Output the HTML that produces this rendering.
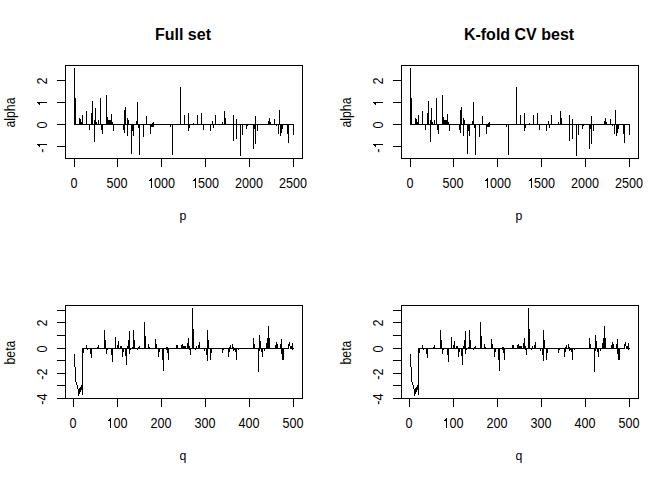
<!DOCTYPE html>
<html><head><meta charset="utf-8"><style>
html,body{margin:0;padding:0;background:#fff;}
svg{display:block;}
text{font-family:"Liberation Sans",sans-serif;fill:#000;}
.t{font-size:16px;font-weight:bold;text-anchor:middle;}
.a{font-size:13px;text-anchor:middle;}
.d{font-size:12.6px;}
.l{font-size:12.3px;text-anchor:middle;}
</style></head><body>
<svg width="672" height="480" viewBox="0 0 672 480" shape-rendering="crispEdges">
<rect width="672" height="480" fill="#fff"/>
<g transform="translate(0,0)">
<rect x="65.5" y="65.5" width="237" height="93" fill="none" stroke="#000" stroke-width="1"/>
<line x1="74.5" y1="158" x2="74.5" y2="166.5" stroke="#000"/>
<line x1="117.5" y1="158" x2="117.5" y2="166.5" stroke="#000"/>
<line x1="161.5" y1="158" x2="161.5" y2="166.5" stroke="#000"/>
<line x1="205.5" y1="158" x2="205.5" y2="166.5" stroke="#000"/>
<line x1="249.5" y1="158" x2="249.5" y2="166.5" stroke="#000"/>
<line x1="293.5" y1="158" x2="293.5" y2="166.5" stroke="#000"/>
<line x1="57" y1="80.5" x2="65.5" y2="80.5" stroke="#000"/>
<line x1="57" y1="102.5" x2="65.5" y2="102.5" stroke="#000"/>
<line x1="57" y1="124.5" x2="65.5" y2="124.5" stroke="#000"/>
<line x1="57" y1="146.5" x2="65.5" y2="146.5" stroke="#000"/>
<line x1="74" y1="124.5" x2="294" y2="124.5" stroke="#000"/>
<path d="M74.5 124.5V68M75.5 124.5V98M79.5 124.5V118M80.5 124.5V119M81.5 124.5V122M82.5 124.5V115M86.5 124.5V111M91.5 124.5V113M92.5 124.5V101M94.5 124.5V120M95.5 124.5V108M96.5 124.5V122M98.5 124.5V120M100.5 124.5V98M106.5 124.5V95M107.5 124.5V117M108.5 124.5V120M109.5 124.5V120M110.5 124.5V120M111.5 124.5V114M112.5 124.5V122M124.5 124.5V110M125.5 124.5V107M127.5 124.5V118M128.5 124.5V120M136.5 124.5V121M137.5 124.5V102M146.5 124.5V116M152.5 124.5V123M153.5 124.5V122M180.5 124.5V87M184.5 124.5V115M188.5 124.5V113M193.5 124.5V123M197.5 124.5V115M201.5 124.5V113M212.5 124.5V121M215.5 124.5V115M222.5 124.5V122M224.5 124.5V111M225.5 124.5V118M233.5 124.5V115M236.5 124.5V119M255.5 124.5V116M268.5 124.5V121M269.5 124.5V118M270.5 124.5V122M274.5 124.5V119M279.5 124.5V110M89.5 124.5V130M94.5 124.5V142M101.5 124.5V130M102.5 124.5V134M113.5 124.5V131M123.5 124.5V130M124.5 124.5V133M127.5 124.5V136M131.5 124.5V154M132.5 124.5V131M133.5 124.5V136M139.5 124.5V155M138.5 124.5V128M143.5 124.5V137M150.5 124.5V134M151.5 124.5V127M152.5 124.5V127M153.5 124.5V127M170.5 124.5V127M172.5 124.5V155M188.5 124.5V131M189.5 124.5V128M203.5 124.5V130M210.5 124.5V131M213.5 124.5V128M233.5 124.5V141M236.5 124.5V139M240.5 124.5V156M242.5 124.5V135M246.5 124.5V129M247.5 124.5V126M253.5 124.5V149M254.5 124.5V129M255.5 124.5V144M257.5 124.5V131M276.5 124.5V126M278.5 124.5V134M280.5 124.5V136M281.5 124.5V133M282.5 124.5V129M287.5 124.5V134M288.5 124.5V143M293.5 124.5V135" stroke="#000" fill="none"/>

<text x="183" y="40" class="t">Full set</text>
<g transform="translate(74,188) scale(1,1.11)"><text x="-3.50" y="0" class="d">0</text></g>
<g transform="translate(117,188) scale(1,1.11)"><text x="-10.51" y="0" class="d">5</text><text x="-3.50" y="0" class="d">0</text><text x="3.50" y="0" class="d">0</text></g>
<g transform="translate(161,188) scale(1,1.11)"><path d="M-9.002 0.000 L-9.998 0.000 L-9.998 -7.057 L-10.454 -6.675 L-11.106 -6.294 L-11.770 -5.986 L-12.269 -5.802 L-12.269 -6.872 L-11.376 -7.291 L-10.706 -7.912 L-10.048 -8.558 L-9.765 -9.019 L-9.002 -9.019Z" fill="#000" stroke="none"/><text x="-7.01" y="0" class="d">0</text><text x="0.00" y="0" class="d">0</text><text x="7.01" y="0" class="d">0</text></g>
<g transform="translate(205,188) scale(1,1.11)"><path d="M-9.002 0.000 L-9.998 0.000 L-9.998 -7.057 L-10.454 -6.675 L-11.106 -6.294 L-11.770 -5.986 L-12.269 -5.802 L-12.269 -6.872 L-11.376 -7.291 L-10.706 -7.912 L-10.048 -8.558 L-9.765 -9.019 L-9.002 -9.019Z" fill="#000" stroke="none"/><text x="-7.01" y="0" class="d">5</text><text x="0.00" y="0" class="d">0</text><text x="7.01" y="0" class="d">0</text></g>
<g transform="translate(249,188) scale(1,1.11)"><text x="-14.01" y="0" class="d">2</text><text x="-7.01" y="0" class="d">0</text><text x="0.00" y="0" class="d">0</text><text x="7.01" y="0" class="d">0</text></g>
<g transform="translate(293,188) scale(1,1.11)"><text x="-14.01" y="0" class="d">2</text><text x="-7.01" y="0" class="d">5</text><text x="0.00" y="0" class="d">0</text><text x="7.01" y="0" class="d">0</text></g>
<g transform="translate(47,81.1) rotate(-90) scale(1,1.11)"><text x="-3.50" y="0" class="d">2</text></g>
<g transform="translate(47,103.1) rotate(-90) scale(1,1.11)"><path d="M1.098 0.000 L0.102 0.000 L0.102 -7.057 L-0.354 -6.675 L-1.006 -6.294 L-1.670 -5.986 L-2.169 -5.802 L-2.169 -6.872 L-1.276 -7.291 L-0.606 -7.912 L0.052 -8.558 L0.335 -9.019 L1.098 -9.019Z" fill="#000" stroke="none"/></g>
<g transform="translate(47,125.1) rotate(-90) scale(1,1.11)"><text x="-3.50" y="0" class="d">0</text></g>
<g transform="translate(47,147.1) rotate(-90) scale(1,1.11)"><text x="-5.60" y="0" class="d">-</text><path d="M3.098 0.000 L2.102 0.000 L2.102 -7.057 L1.646 -6.675 L0.994 -6.294 L0.330 -5.986 L-0.169 -5.802 L-0.169 -6.872 L0.724 -7.291 L1.394 -7.912 L2.052 -8.558 L2.335 -9.019 L3.098 -9.019Z" fill="#000" stroke="none"/></g>
<text transform="translate(183,219.7) scale(1,1.08)" class="l">p</text>
<text transform="translate(15,112.5) rotate(-90) scale(1,1.12)" class="l">alpha</text>
</g>
<g transform="translate(0,240)">
<rect x="65.5" y="65.5" width="237" height="93" fill="none" stroke="#000" stroke-width="1"/>
<line x1="73.5" y1="158" x2="73.5" y2="166.5" stroke="#000"/>
<line x1="117.5" y1="158" x2="117.5" y2="166.5" stroke="#000"/>
<line x1="161.5" y1="158" x2="161.5" y2="166.5" stroke="#000"/>
<line x1="205.5" y1="158" x2="205.5" y2="166.5" stroke="#000"/>
<line x1="249.5" y1="158" x2="249.5" y2="166.5" stroke="#000"/>
<line x1="293.5" y1="158" x2="293.5" y2="166.5" stroke="#000"/>
<line x1="57" y1="70.5" x2="65.5" y2="70.5" stroke="#000"/>
<line x1="57" y1="82.5" x2="65.5" y2="82.5" stroke="#000"/>
<line x1="57" y1="95.5" x2="65.5" y2="95.5" stroke="#000"/>
<line x1="57" y1="108.5" x2="65.5" y2="108.5" stroke="#000"/>
<line x1="57" y1="120.5" x2="65.5" y2="120.5" stroke="#000"/>
<line x1="57" y1="133.5" x2="65.5" y2="133.5" stroke="#000"/>
<line x1="57" y1="145.5" x2="65.5" y2="145.5" stroke="#000"/>
<line x1="57" y1="158.5" x2="65.5" y2="158.5" stroke="#000"/>
<line x1="82" y1="108.5" x2="289" y2="108.5" stroke="#000"/>
<path d="M86.5 108.5V105M98.5 108.5V105M97.5 108.5V107M104.5 108.5V90M105.5 108.5V100M115.5 108.5V97M117.5 108.5V105M118.5 108.5V101M120.5 108.5V106M121.5 108.5V106M127.5 108.5V106M128.5 108.5V100M129.5 108.5V91M132.5 108.5V107M133.5 108.5V90M134.5 108.5V100M138.5 108.5V107M139.5 108.5V106M144.5 108.5V82M145.5 108.5V96M148.5 108.5V104M149.5 108.5V107M155.5 108.5V99M156.5 108.5V104M166.5 108.5V107M167.5 108.5V107M176.5 108.5V105M177.5 108.5V105M181.5 108.5V105M182.5 108.5V104M183.5 108.5V106M184.5 108.5V106M185.5 108.5V106M187.5 108.5V103M188.5 108.5V98M189.5 108.5V106M192.5 108.5V68M193.5 108.5V89M196.5 108.5V106M198.5 108.5V105M199.5 108.5V102M207.5 108.5V90M208.5 108.5V100M229.5 108.5V107M230.5 108.5V105M232.5 108.5V104M233.5 108.5V107M253.5 108.5V98M254.5 108.5V104M259.5 108.5V95M260.5 108.5V101M266.5 108.5V103M267.5 108.5V98M268.5 108.5V86M269.5 108.5V98M275.5 108.5V105M276.5 108.5V102M277.5 108.5V104M280.5 108.5V104M281.5 108.5V99M288.5 108.5V104M83.5 108.5V113M87.5 108.5V110M90.5 108.5V114M91.5 108.5V118M106.5 108.5V114M107.5 108.5V110M111.5 108.5V115M112.5 108.5V122M122.5 108.5V117M123.5 108.5V112M125.5 108.5V116M126.5 108.5V125M129.5 108.5V114M130.5 108.5V110M137.5 108.5V110M158.5 108.5V117M159.5 108.5V112M162.5 108.5V120M163.5 108.5V131M166.5 108.5V110M167.5 108.5V113M168.5 108.5V120M189.5 108.5V110M190.5 108.5V115M195.5 108.5V110M204.5 108.5V111M205.5 108.5V109M206.5 108.5V115M207.5 108.5V121M210.5 108.5V120M211.5 108.5V113M222.5 108.5V113M223.5 108.5V110M228.5 108.5V117M229.5 108.5V112M233.5 108.5V111M234.5 108.5V110M235.5 108.5V112M236.5 108.5V120M238.5 108.5V110M242.5 108.5V109M258.5 108.5V132M259.5 108.5V111M261.5 108.5V112M262.5 108.5V117M264.5 108.5V111M265.5 108.5V109M281.5 108.5V114M282.5 108.5V120M283.5 108.5V120" stroke="#000" fill="none"/>
<path d="M74.5 114V127M75.5 127V142M76.5 142V145M77.5 145V149M78.5 149V156M79.5 148V154M80.5 147V152M81.5 145V150M82.5 108V155M289.5 102V106M290.5 106V109M291.5 106V109M292.5 103V110M293.5 108V109" stroke="#000" fill="none"/>
<text x="183" y="40" class="t"></text>
<g transform="translate(73,188) scale(1,1.11)"><text x="-3.50" y="0" class="d">0</text></g>
<g transform="translate(117,188) scale(1,1.11)"><path d="M-6.002 0.000 L-6.998 0.000 L-6.998 -7.057 L-7.454 -6.675 L-8.106 -6.294 L-8.770 -5.986 L-9.269 -5.802 L-9.269 -6.872 L-8.376 -7.291 L-7.706 -7.912 L-7.048 -8.558 L-6.765 -9.019 L-6.002 -9.019Z" fill="#000" stroke="none"/><text x="-3.50" y="0" class="d">0</text><text x="3.50" y="0" class="d">0</text></g>
<g transform="translate(161,188) scale(1,1.11)"><text x="-10.51" y="0" class="d">2</text><text x="-3.50" y="0" class="d">0</text><text x="3.50" y="0" class="d">0</text></g>
<g transform="translate(205,188) scale(1,1.11)"><text x="-10.51" y="0" class="d">3</text><text x="-3.50" y="0" class="d">0</text><text x="3.50" y="0" class="d">0</text></g>
<g transform="translate(249,188) scale(1,1.11)"><text x="-10.51" y="0" class="d">4</text><text x="-3.50" y="0" class="d">0</text><text x="3.50" y="0" class="d">0</text></g>
<g transform="translate(293,188) scale(1,1.11)"><text x="-10.51" y="0" class="d">5</text><text x="-3.50" y="0" class="d">0</text><text x="3.50" y="0" class="d">0</text></g>
<g transform="translate(47,83.1) rotate(-90) scale(1,1.11)"><text x="-3.50" y="0" class="d">2</text></g>
<g transform="translate(47,109.1) rotate(-90) scale(1,1.11)"><text x="-3.50" y="0" class="d">0</text></g>
<g transform="translate(47,134.1) rotate(-90) scale(1,1.11)"><text x="-5.60" y="0" class="d">-</text><text x="-1.40" y="0" class="d">2</text></g>
<g transform="translate(47,159.1) rotate(-90) scale(1,1.11)"><text x="-5.60" y="0" class="d">-</text><text x="-1.40" y="0" class="d">4</text></g>
<text transform="translate(183,219.7) scale(1,1.08)" class="l">q</text>
<text transform="translate(15,112.5) rotate(-90) scale(1,1.12)" class="l">beta</text>
</g>
<g transform="translate(336,0)">
<rect x="65.5" y="65.5" width="237" height="93" fill="none" stroke="#000" stroke-width="1"/>
<line x1="74.5" y1="158" x2="74.5" y2="166.5" stroke="#000"/>
<line x1="117.5" y1="158" x2="117.5" y2="166.5" stroke="#000"/>
<line x1="161.5" y1="158" x2="161.5" y2="166.5" stroke="#000"/>
<line x1="205.5" y1="158" x2="205.5" y2="166.5" stroke="#000"/>
<line x1="249.5" y1="158" x2="249.5" y2="166.5" stroke="#000"/>
<line x1="293.5" y1="158" x2="293.5" y2="166.5" stroke="#000"/>
<line x1="57" y1="80.5" x2="65.5" y2="80.5" stroke="#000"/>
<line x1="57" y1="102.5" x2="65.5" y2="102.5" stroke="#000"/>
<line x1="57" y1="124.5" x2="65.5" y2="124.5" stroke="#000"/>
<line x1="57" y1="146.5" x2="65.5" y2="146.5" stroke="#000"/>
<line x1="74" y1="124.5" x2="294" y2="124.5" stroke="#000"/>
<path d="M74.5 124.5V68M75.5 124.5V98M79.5 124.5V118M80.5 124.5V119M81.5 124.5V122M82.5 124.5V115M86.5 124.5V111M91.5 124.5V113M92.5 124.5V101M94.5 124.5V120M95.5 124.5V108M96.5 124.5V122M98.5 124.5V120M100.5 124.5V98M106.5 124.5V95M107.5 124.5V117M108.5 124.5V120M109.5 124.5V120M110.5 124.5V120M111.5 124.5V114M112.5 124.5V122M124.5 124.5V110M125.5 124.5V107M127.5 124.5V118M128.5 124.5V120M136.5 124.5V121M137.5 124.5V102M146.5 124.5V116M152.5 124.5V123M153.5 124.5V122M180.5 124.5V87M184.5 124.5V115M188.5 124.5V113M193.5 124.5V123M197.5 124.5V115M201.5 124.5V113M212.5 124.5V121M215.5 124.5V115M222.5 124.5V122M224.5 124.5V111M225.5 124.5V118M233.5 124.5V115M236.5 124.5V119M255.5 124.5V116M268.5 124.5V121M269.5 124.5V118M270.5 124.5V122M274.5 124.5V119M279.5 124.5V110M89.5 124.5V130M94.5 124.5V142M101.5 124.5V130M102.5 124.5V134M113.5 124.5V131M123.5 124.5V130M124.5 124.5V133M127.5 124.5V136M131.5 124.5V154M132.5 124.5V131M133.5 124.5V136M139.5 124.5V155M138.5 124.5V128M143.5 124.5V137M150.5 124.5V134M151.5 124.5V127M152.5 124.5V127M153.5 124.5V127M170.5 124.5V127M172.5 124.5V155M188.5 124.5V131M189.5 124.5V128M203.5 124.5V130M210.5 124.5V131M213.5 124.5V128M233.5 124.5V141M236.5 124.5V139M240.5 124.5V156M242.5 124.5V135M246.5 124.5V129M247.5 124.5V126M253.5 124.5V149M254.5 124.5V129M255.5 124.5V144M257.5 124.5V131M276.5 124.5V126M278.5 124.5V134M280.5 124.5V136M281.5 124.5V133M282.5 124.5V129M287.5 124.5V134M288.5 124.5V143M293.5 124.5V135" stroke="#000" fill="none"/>

<text x="183" y="40" class="t">K-fold CV best</text>
<g transform="translate(74,188) scale(1,1.11)"><text x="-3.50" y="0" class="d">0</text></g>
<g transform="translate(117,188) scale(1,1.11)"><text x="-10.51" y="0" class="d">5</text><text x="-3.50" y="0" class="d">0</text><text x="3.50" y="0" class="d">0</text></g>
<g transform="translate(161,188) scale(1,1.11)"><path d="M-9.002 0.000 L-9.998 0.000 L-9.998 -7.057 L-10.454 -6.675 L-11.106 -6.294 L-11.770 -5.986 L-12.269 -5.802 L-12.269 -6.872 L-11.376 -7.291 L-10.706 -7.912 L-10.048 -8.558 L-9.765 -9.019 L-9.002 -9.019Z" fill="#000" stroke="none"/><text x="-7.01" y="0" class="d">0</text><text x="0.00" y="0" class="d">0</text><text x="7.01" y="0" class="d">0</text></g>
<g transform="translate(205,188) scale(1,1.11)"><path d="M-9.002 0.000 L-9.998 0.000 L-9.998 -7.057 L-10.454 -6.675 L-11.106 -6.294 L-11.770 -5.986 L-12.269 -5.802 L-12.269 -6.872 L-11.376 -7.291 L-10.706 -7.912 L-10.048 -8.558 L-9.765 -9.019 L-9.002 -9.019Z" fill="#000" stroke="none"/><text x="-7.01" y="0" class="d">5</text><text x="0.00" y="0" class="d">0</text><text x="7.01" y="0" class="d">0</text></g>
<g transform="translate(249,188) scale(1,1.11)"><text x="-14.01" y="0" class="d">2</text><text x="-7.01" y="0" class="d">0</text><text x="0.00" y="0" class="d">0</text><text x="7.01" y="0" class="d">0</text></g>
<g transform="translate(293,188) scale(1,1.11)"><text x="-14.01" y="0" class="d">2</text><text x="-7.01" y="0" class="d">5</text><text x="0.00" y="0" class="d">0</text><text x="7.01" y="0" class="d">0</text></g>
<g transform="translate(47,81.1) rotate(-90) scale(1,1.11)"><text x="-3.50" y="0" class="d">2</text></g>
<g transform="translate(47,103.1) rotate(-90) scale(1,1.11)"><path d="M1.098 0.000 L0.102 0.000 L0.102 -7.057 L-0.354 -6.675 L-1.006 -6.294 L-1.670 -5.986 L-2.169 -5.802 L-2.169 -6.872 L-1.276 -7.291 L-0.606 -7.912 L0.052 -8.558 L0.335 -9.019 L1.098 -9.019Z" fill="#000" stroke="none"/></g>
<g transform="translate(47,125.1) rotate(-90) scale(1,1.11)"><text x="-3.50" y="0" class="d">0</text></g>
<g transform="translate(47,147.1) rotate(-90) scale(1,1.11)"><text x="-5.60" y="0" class="d">-</text><path d="M3.098 0.000 L2.102 0.000 L2.102 -7.057 L1.646 -6.675 L0.994 -6.294 L0.330 -5.986 L-0.169 -5.802 L-0.169 -6.872 L0.724 -7.291 L1.394 -7.912 L2.052 -8.558 L2.335 -9.019 L3.098 -9.019Z" fill="#000" stroke="none"/></g>
<text transform="translate(183,219.7) scale(1,1.08)" class="l">p</text>
<text transform="translate(15,112.5) rotate(-90) scale(1,1.12)" class="l">alpha</text>
</g>
<g transform="translate(336,240)">
<rect x="65.5" y="65.5" width="237" height="93" fill="none" stroke="#000" stroke-width="1"/>
<line x1="73.5" y1="158" x2="73.5" y2="166.5" stroke="#000"/>
<line x1="117.5" y1="158" x2="117.5" y2="166.5" stroke="#000"/>
<line x1="161.5" y1="158" x2="161.5" y2="166.5" stroke="#000"/>
<line x1="205.5" y1="158" x2="205.5" y2="166.5" stroke="#000"/>
<line x1="249.5" y1="158" x2="249.5" y2="166.5" stroke="#000"/>
<line x1="293.5" y1="158" x2="293.5" y2="166.5" stroke="#000"/>
<line x1="57" y1="70.5" x2="65.5" y2="70.5" stroke="#000"/>
<line x1="57" y1="82.5" x2="65.5" y2="82.5" stroke="#000"/>
<line x1="57" y1="95.5" x2="65.5" y2="95.5" stroke="#000"/>
<line x1="57" y1="108.5" x2="65.5" y2="108.5" stroke="#000"/>
<line x1="57" y1="120.5" x2="65.5" y2="120.5" stroke="#000"/>
<line x1="57" y1="133.5" x2="65.5" y2="133.5" stroke="#000"/>
<line x1="57" y1="145.5" x2="65.5" y2="145.5" stroke="#000"/>
<line x1="57" y1="158.5" x2="65.5" y2="158.5" stroke="#000"/>
<line x1="82" y1="108.5" x2="289" y2="108.5" stroke="#000"/>
<path d="M86.5 108.5V105M98.5 108.5V105M97.5 108.5V107M104.5 108.5V90M105.5 108.5V100M115.5 108.5V97M117.5 108.5V105M118.5 108.5V101M120.5 108.5V106M121.5 108.5V106M127.5 108.5V106M128.5 108.5V100M129.5 108.5V91M132.5 108.5V107M133.5 108.5V90M134.5 108.5V100M138.5 108.5V107M139.5 108.5V106M144.5 108.5V82M145.5 108.5V96M148.5 108.5V104M149.5 108.5V107M155.5 108.5V99M156.5 108.5V104M166.5 108.5V107M167.5 108.5V107M176.5 108.5V105M177.5 108.5V105M181.5 108.5V105M182.5 108.5V104M183.5 108.5V106M184.5 108.5V106M185.5 108.5V106M187.5 108.5V103M188.5 108.5V98M189.5 108.5V106M192.5 108.5V68M193.5 108.5V89M196.5 108.5V106M198.5 108.5V105M199.5 108.5V102M207.5 108.5V90M208.5 108.5V100M229.5 108.5V107M230.5 108.5V105M232.5 108.5V104M233.5 108.5V107M253.5 108.5V98M254.5 108.5V104M259.5 108.5V95M260.5 108.5V101M266.5 108.5V103M267.5 108.5V98M268.5 108.5V86M269.5 108.5V98M275.5 108.5V105M276.5 108.5V102M277.5 108.5V104M280.5 108.5V104M281.5 108.5V99M288.5 108.5V104M83.5 108.5V113M87.5 108.5V110M90.5 108.5V114M91.5 108.5V118M106.5 108.5V114M107.5 108.5V110M111.5 108.5V115M112.5 108.5V122M122.5 108.5V117M123.5 108.5V112M125.5 108.5V116M126.5 108.5V125M129.5 108.5V114M130.5 108.5V110M137.5 108.5V110M158.5 108.5V117M159.5 108.5V112M162.5 108.5V120M163.5 108.5V131M166.5 108.5V110M167.5 108.5V113M168.5 108.5V120M189.5 108.5V110M190.5 108.5V115M195.5 108.5V110M204.5 108.5V111M205.5 108.5V109M206.5 108.5V115M207.5 108.5V121M210.5 108.5V120M211.5 108.5V113M222.5 108.5V113M223.5 108.5V110M228.5 108.5V117M229.5 108.5V112M233.5 108.5V111M234.5 108.5V110M235.5 108.5V112M236.5 108.5V120M238.5 108.5V110M242.5 108.5V109M258.5 108.5V132M259.5 108.5V111M261.5 108.5V112M262.5 108.5V117M264.5 108.5V111M265.5 108.5V109M281.5 108.5V114M282.5 108.5V120M283.5 108.5V120" stroke="#000" fill="none"/>
<path d="M74.5 114V127M75.5 127V142M76.5 142V145M77.5 145V149M78.5 149V156M79.5 148V154M80.5 147V152M81.5 145V150M82.5 108V155M289.5 102V106M290.5 106V109M291.5 106V109M292.5 103V110M293.5 108V109" stroke="#000" fill="none"/>
<text x="183" y="40" class="t"></text>
<g transform="translate(73,188) scale(1,1.11)"><text x="-3.50" y="0" class="d">0</text></g>
<g transform="translate(117,188) scale(1,1.11)"><path d="M-6.002 0.000 L-6.998 0.000 L-6.998 -7.057 L-7.454 -6.675 L-8.106 -6.294 L-8.770 -5.986 L-9.269 -5.802 L-9.269 -6.872 L-8.376 -7.291 L-7.706 -7.912 L-7.048 -8.558 L-6.765 -9.019 L-6.002 -9.019Z" fill="#000" stroke="none"/><text x="-3.50" y="0" class="d">0</text><text x="3.50" y="0" class="d">0</text></g>
<g transform="translate(161,188) scale(1,1.11)"><text x="-10.51" y="0" class="d">2</text><text x="-3.50" y="0" class="d">0</text><text x="3.50" y="0" class="d">0</text></g>
<g transform="translate(205,188) scale(1,1.11)"><text x="-10.51" y="0" class="d">3</text><text x="-3.50" y="0" class="d">0</text><text x="3.50" y="0" class="d">0</text></g>
<g transform="translate(249,188) scale(1,1.11)"><text x="-10.51" y="0" class="d">4</text><text x="-3.50" y="0" class="d">0</text><text x="3.50" y="0" class="d">0</text></g>
<g transform="translate(293,188) scale(1,1.11)"><text x="-10.51" y="0" class="d">5</text><text x="-3.50" y="0" class="d">0</text><text x="3.50" y="0" class="d">0</text></g>
<g transform="translate(47,83.1) rotate(-90) scale(1,1.11)"><text x="-3.50" y="0" class="d">2</text></g>
<g transform="translate(47,109.1) rotate(-90) scale(1,1.11)"><text x="-3.50" y="0" class="d">0</text></g>
<g transform="translate(47,134.1) rotate(-90) scale(1,1.11)"><text x="-5.60" y="0" class="d">-</text><text x="-1.40" y="0" class="d">2</text></g>
<g transform="translate(47,159.1) rotate(-90) scale(1,1.11)"><text x="-5.60" y="0" class="d">-</text><text x="-1.40" y="0" class="d">4</text></g>
<text transform="translate(183,219.7) scale(1,1.08)" class="l">q</text>
<text transform="translate(15,112.5) rotate(-90) scale(1,1.12)" class="l">beta</text>
</g>
</svg></body></html>
